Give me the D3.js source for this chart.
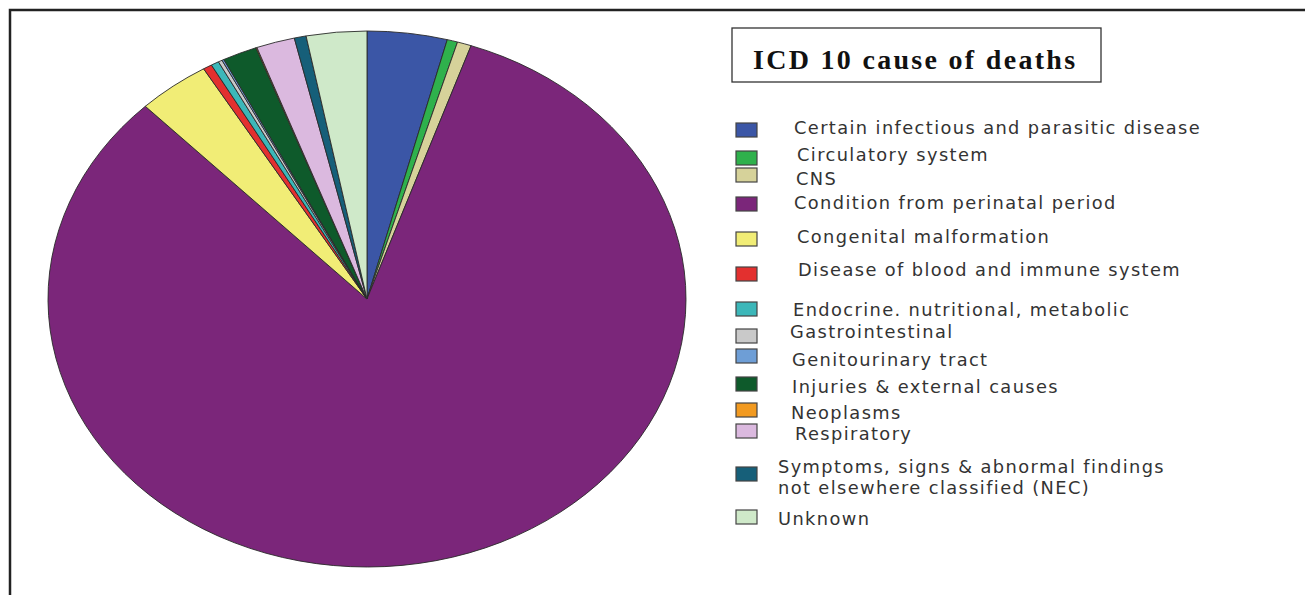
<!DOCTYPE html>
<html><head><meta charset="utf-8">
<script src="https://cdn.jsdelivr.net/npm/d3@7/dist/d3.min.js"></script>
<style>html,body{margin:0;padding:0;background:#fff;}svg{display:block;}</style>
</head><body><svg id="c" width="1305" height="595"></svg>
<script>
const categories = [
  "Certain infectious and parasitic disease",
  "Circulatory system",
  "CNS",
  "Condition from perinatal period",
  "Congenital malformation",
  "Disease of blood and immune system",
  "Endocrine. nutritional, metabolic",
  "Gastrointestinal",
  "Genitourinary tract",
  "Injuries & external causes",
  "Neoplasms",
  "Respiratory",
  "Symptoms, signs & abnormal findings|not elsewhere classified (NEC)",
  "Unknown"
];
const values = [4.05, 0.53, 0.71, 82.5, 3.67, 0.45, 0.4, 0.2, 0.1, 1.75, 0.05, 1.95, 0.6, 3.06];
const colors = ["#3b56a6", "#2fb14c", "#d6d29a", "#7b267a", "#f1ed76", "#e3302f", "#3cb7b9", "#c9c9c9", "#6e9ed6", "#0e5a2b", "#f29a20", "#dbb9df", "#165f79", "#cfe9c9"];
const title = "ICD 10 cause of deaths";

const svg = d3.select("#c");

// frame
svg.append("path").attr("d", "M10,595 L10,10 L1305,10")
  .attr("fill", "none").attr("stroke", "#222").attr("stroke-width", 2.5);

// pie (stretched horizontally as in the reference)
const cx = 367, cy = 299, ry = 268, rx = 319;
const g = svg.append("g").attr("transform", `translate(${cx},${cy}) scale(${rx/ry},1)`);
const pie = d3.pie().sort(null).value(d => d.v);
const arc = d3.arc().innerRadius(0).outerRadius(ry);
const data = categories.map((c, i) => ({c, v: values[i], col: colors[i]}));
g.selectAll("path").data(pie(data)).join("path")
  .attr("d", arc)
  .attr("fill", d => d.data.col)
  .attr("stroke", "#2a2a2a")
  .attr("stroke-width", 0.9)
  .attr("stroke-linejoin", "round")
  .attr("vector-effect", "non-scaling-stroke");

// title box
svg.append("rect").attr("x", 732).attr("y", 28).attr("width", 369).attr("height", 54)
  .attr("fill", "#fff").attr("stroke", "#333").attr("stroke-width", 1.3);
svg.append("text").attr("x", 753).attr("y", 69).text(title)
  .attr("font-family", "Liberation Serif, serif").attr("font-weight", "bold")
  .attr("font-size", 28).attr("letter-spacing", 2.3).attr("fill", "#111");

// legend
const swY = [123, 151, 168, 197, 232, 267, 302, 329, 349, 377, 403, 424, 467, 510];
const txX = [794, 797, 796, 794, 797, 798, 793, 790, 792, 792, 791, 795, 778, 778];
const txY = [128, 155, 179, 202.5, 237, 270, 310, 331.5, 360, 387, 413, 434, 466.5, 519];
const leg = svg.append("g");
data.forEach((d, i) => {
  leg.append("rect").attr("x", 736).attr("y", swY[i]).attr("width", 21).attr("height", 14)
    .attr("fill", d.col).attr("stroke", "#444").attr("stroke-width", 1.2);
  const lines = d.c.split("|");
  lines.forEach((ln, j) => {
    leg.append("text").attr("x", txX[i]).attr("y", txY[i] + j * 20.8)
      .attr("dy", "0.35em").text(ln)
      .attr("font-family", "DejaVu Sans, sans-serif").attr("font-size", 17.8)
      .attr("letter-spacing", 1.4).attr("fill", "#333");
  });
});
</script></body></html>
